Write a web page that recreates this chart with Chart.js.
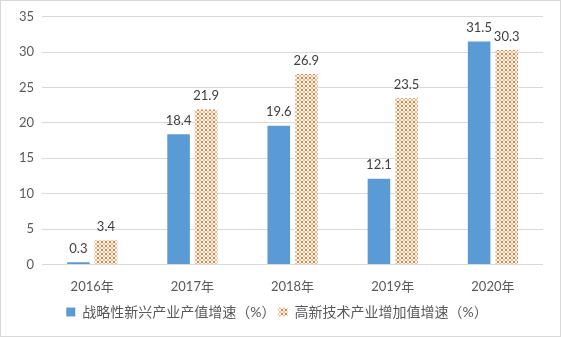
<!DOCTYPE html>
<html>
<head>
<meta charset="utf-8">
<script src="https://cdn.jsdelivr.net/npm/chart.js@4/dist/chart.umd.min.js"></script>
<style>
  html, body { margin: 0; padding: 0; background: #fff; }
  #wrap { position: relative; width: 559px; height: 335px; border: 1px solid #d9d9d9; }
</style>
</head>
<body>
<div id="wrap"><canvas id="chart"></canvas></div>
<script>
const years = ['2016年', '2017年', '2018年', '2019年', '2020年'];
const strategicGrowth = [0.3, 18.4, 19.6, 12.1, 31.5];
const hiTechGrowth = [3.4, 21.9, 26.9, 23.5, 30.3];
const seriesNames = ['战略性新兴产业产值增速（%）', '高新技术产业增加值增速（%）'];

const FONT = "Lato, 'Noto Sans CJK SC', sans-serif";

// small cross-hatch tile for the second series
function makePattern() {
    const c = document.createElement('canvas');
    c.width = 4; c.height = 4;
    const g = c.getContext('2d');
    g.fillStyle = '#ffffff';
    g.fillRect(0, 0, 4, 4);
    g.fillStyle = '#ED7D31';
    g.fillRect(0, 0, 2, 2);
    g.fillStyle = '#F6B88E';
    g.fillRect(2, 2, 2, 2);
    return g.createPattern(c, 'repeat');
}
const hatch = makePattern();

const valueLabels = {
    id: 'valueLabels',
    afterDatasetsDraw(chart) {
        const ctx = chart.ctx;
        ctx.save();
        ctx.font = '13px ' + FONT;
        ctx.fillStyle = '#404040';
        ctx.textAlign = 'center';
        ctx.textBaseline = 'bottom';
        chart.data.datasets.forEach((ds, i) => {
            chart.getDatasetMeta(i).data.forEach((bar, j) => {
                ctx.fillText(ds.data[j].toFixed(1), bar.x, bar.y - 7);
            });
        });
        ctx.restore();
    }
};

new Chart(document.getElementById('chart'), {
    type: 'bar',
    data: {
        labels: years,
        datasets: [{
            label: seriesNames[0],
            data: strategicGrowth,
            backgroundColor: '#5B9BD5',
            categoryPercentage: 0.55,
            barPercentage: 0.82
        }, {
            label: seriesNames[1],
            data: hiTechGrowth,
            backgroundColor: hatch,
            categoryPercentage: 0.55,
            barPercentage: 0.82
        }]
    },
    options: {
        responsive: true,
        maintainAspectRatio: false,
        animation: false,
        layout: { padding: { left: 10, right: 17, top: 12, bottom: 7 } },
        scales: {
            x: {
                grid: { display: false },
                border: { display: false },
                ticks: { color: '#595959', font: { size: 13, family: FONT }, padding: 7 }
            },
            y: {
                min: 0,
                max: 35,
                ticks: { stepSize: 5, color: '#595959', font: { size: 13, family: FONT }, padding: 8 },
                grid: { color: '#d9d9d9', lineWidth: 1, drawTicks: false },
                border: { display: false }
            }
        },
        plugins: {
            legend: {
                position: 'bottom',
                labels: {
                    color: '#595959',
                    font: { size: 14, family: FONT },
                    boxWidth: 9,
                    boxHeight: 9,
                    padding: 3
                }
            },
            tooltip: { enabled: false }
        }
    },
    plugins: [valueLabels]
});
</script>
</body>
</html>
